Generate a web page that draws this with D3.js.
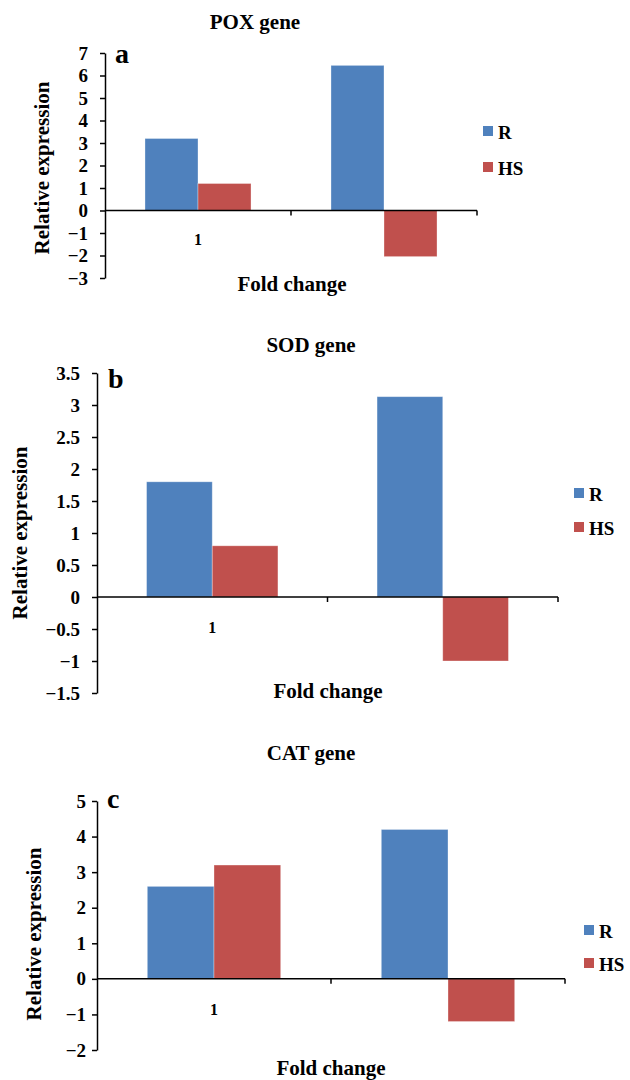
<!DOCTYPE html>
<html>
<head>
<meta charset="utf-8">
<script src="https://cdn.jsdelivr.net/npm/d3@7"></script>
<style>
  body { margin: 0; background: #fff; }
  svg { display: block; }
  text { font-family: "Liberation Serif", "Times New Roman", serif; font-weight: bold; fill: #000; }
</style>
</head>
<body>
<div id="chart-container"></div>
<script>
const width = 630;
const height = 1080;

// data
const categories = ["1", ""];
const seriesNames = ["R", "HS"];
const poxR = [3.2, 6.45];
const poxHS = [1.2, -2.05];
const sodR = [1.8, 3.13];
const sodHS = [0.8, -1.0];
const catR = [2.6, 4.2];
const catHS = [3.2, -1.2];
const poxTicks = [-3, -2, -1, 0, 1, 2, 3, 4, 5, 6, 7];
const sodTicks = [-1.5, -1, -0.5, 0, 0.5, 1, 1.5, 2, 2.5, 3, 3.5];
const catTicks = [-2, -1, 0, 1, 2, 3, 4, 5];

const colors = { R: "#4F81BD", HS: "#C0504D" };

// layout of each panel
const panels = [
  { title: "POX gene", letter: "a", R: poxR, HS: poxHS, ticks: poxTicks,
    left: 105, right: 477, top: 53, bottom: 278, titleX: 255, titleY: 29,
    letterX: 115, letterY: 63, yTitleX: 49, yTitleY: 168, catY: 34,
    foldX: 292, foldY: 291, legX: 483, legY: 126, legGap: 36, pad: 12 },
  { title: "SOD gene", letter: "b", R: sodR, HS: sodHS, ticks: sodTicks,
    left: 97, right: 558, top: 373, bottom: 693, titleX: 311, titleY: 352,
    letterX: 108, letterY: 388, yTitleX: 27, yTitleY: 533, catY: 36,
    foldX: 328, foldY: 698, legX: 574, legY: 488, legGap: 34, pad: 12 },
  { title: "CAT gene", letter: "c", R: catR, HS: catHS, ticks: catTicks,
    left: 97, right: 565, top: 801, bottom: 1050, titleX: 311, titleY: 760,
    letterX: 107, letterY: 808, yTitleX: 41, yTitleY: 934, catY: 36,
    foldX: 331, foldY: 1075, legX: 584, legY: 925, legGap: 33, pad: 6 }
];

const svg = d3.select("#chart-container").append("svg")
  .attr("width", width)
  .attr("height", height);

let drawPanel = (p) => {
  const g = svg.append("g");

  const x = d3.scaleBand()
    .domain(categories)
    .range([p.left, p.right]);

  const y = d3.scaleLinear()
    .domain(d3.extent(p.ticks))
    .range([p.bottom, p.top]);

  // bars take ~57% of each category band
  const groupW = x.bandwidth() * 0.57;
  const xs = d3.scaleBand()
    .domain(seriesNames)
    .range([0, groupW]);

  const rows = [];
  categories.forEach((c, i) => {
    seriesNames.forEach(s => rows.push({ cat: c, series: s, value: p[s][i] }));
  });

  g.selectAll(".bar")
    .data(rows)
    .enter().append("rect")
    .attr("class", "bar")
    .attr("x", d => x(d.cat) + (x.bandwidth() - groupW) / 2 + xs(d.series))
    .attr("y", d => y(Math.max(0, d.value)))
    .attr("width", xs.bandwidth())
    .attr("height", d => Math.abs(y(d.value) - y(0)))
    .attr("fill", d => colors[d.series])
    .attr("stroke", "#fff")
    .attr("stroke-opacity", 0.4)
    .attr("stroke-width", 0.8);

  // y axis
  const yAxis = g.append("g")
    .attr("transform", `translate(${p.left},0)`)
    .call(d3.axisLeft(y).tickValues(p.ticks).tickSize(5).tickSizeOuter(0).tickPadding(p.pad)
      .tickFormat(d3.format("")));
  yAxis.select(".domain").attr("stroke", "#000").attr("stroke-width", 1.5);
  yAxis.selectAll(".tick line").attr("stroke", "#000").attr("stroke-width", 1.5);
  yAxis.selectAll(".tick text")
    .attr("font-size", 19)
    .attr("font-family", "Liberation Serif, serif")
    .attr("font-weight", "bold");

  // x axis line at zero with ticks on band edges
  g.append("line")
    .attr("x1", p.left).attr("x2", p.right)
    .attr("y1", y(0)).attr("y2", y(0))
    .attr("stroke", "#000").attr("stroke-width", 1.5);
  g.selectAll(".xtick")
    .data(categories)
    .enter().append("line")
    .attr("class", "xtick")
    .attr("x1", d => x(d) + x.bandwidth())
    .attr("x2", d => x(d) + x.bandwidth())
    .attr("y1", y(0)).attr("y2", y(0) + 5)
    .attr("stroke", "#000").attr("stroke-width", 1.5);
  g.selectAll(".xlabel")
    .data(categories)
    .enter().append("text")
    .attr("class", "xlabel")
    .attr("x", d => x(d) + x.bandwidth() / 2)
    .attr("y", y(0) + p.catY)
    .attr("text-anchor", "middle")
    .attr("font-size", 16)
    .text(d => d);

  // titles
  g.append("text")
    .attr("x", p.titleX).attr("y", p.titleY)
    .attr("text-anchor", "middle")
    .attr("font-size", 21)
    .text(p.title);
  g.append("text")
    .attr("x", p.letterX).attr("y", p.letterY)
    .attr("font-size", 28)
    .text(p.letter);
  g.append("text")
    .attr("transform", `translate(${p.yTitleX},${p.yTitleY}) rotate(-90)`)
    .attr("text-anchor", "middle")
    .attr("font-size", 21)
    .text("Relative expression");
  g.append("text")
    .attr("x", p.foldX).attr("y", p.foldY)
    .attr("text-anchor", "middle")
    .attr("font-size", 21)
    .text("Fold change");

  // legend
  const leg = g.selectAll(".leg")
    .data(seriesNames)
    .enter().append("g")
    .attr("class", "leg")
    .attr("transform", (d, i) => `translate(${p.legX},${p.legY + i * p.legGap})`);
  leg.append("rect")
    .attr("width", 10).attr("height", 10)
    .attr("fill", d => colors[d]);
  leg.append("text")
    .attr("x", 15).attr("y", 13)
    .attr("font-size", 19)
    .text(d => d);
}

panels.forEach(drawPanel);
</script>
</body>
</html>
